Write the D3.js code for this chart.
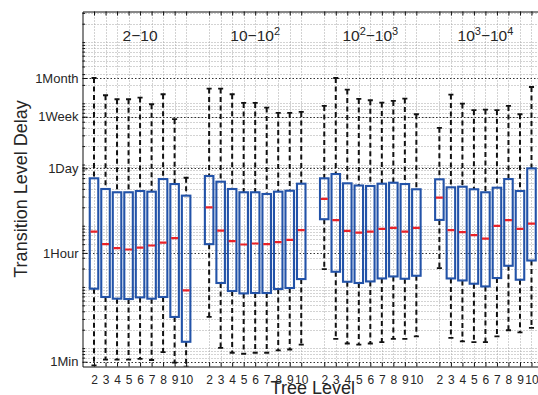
<!DOCTYPE html>
<html>
<head>
<meta charset="utf-8">
<script src="https://cdn.jsdelivr.net/npm/d3@7/dist/d3.min.js"></script>
<style>
  html, body { margin: 0; padding: 0; background: #fff; }
  svg { display: block; font-family: "Liberation Sans", Arial, Helvetica, sans-serif; }
</style>
</head>
<body>
<svg id="chart" width="538" height="395"></svg>
<script>
// Node-degree groups; "^n" marks a superscript exponent
const groupLabels = ["2−10", "10−10^2", "10^2−10^3", "10^3−10^4"];
const levels = [2, 3, 4, 5, 6, 7, 8, 9, 10];

// Transition delays in seconds, one row per group, one entry per tree level 2..10
const upperWhisker = [
  2592000, 1353000, 1165000, 1165000, 1241000, 965000, 1405000, 550000, 60800,
  1740000, 1740000, 1405000, 1014000, 1014000, 853000, 697000, 697000, 723000,
  906000, 2590000, 1676000, 1178000, 1121000, 1029000, 1093000, 1196000, 663000,
  397000, 1389000, 991000, 771000, 791000, 771000, 906000, 663000, 1847000
];
const upperQuartile = [
  59500, 39800, 35200, 35200, 36900, 36000, 57900, 48000, 31000,
  64800, 52400, 39800, 35200, 35200, 33000, 36000, 37300, 48600,
  59500, 69900, 49300, 45400, 44600, 48600, 50400, 48000, 39400,
  57300, 42400, 43400, 39400, 35200, 41800, 57900, 36900, 86500
];
const medianDelay = [
  8020, 5000, 4300, 4090, 4400, 4750, 5310, 6270, 877,
  20000, 8330, 5600, 4930, 5120, 5000, 5390, 5880, 8460,
  27400, 12300, 8240, 7730, 8020, 8880, 9220, 8020, 9220,
  28700, 8460, 7840, 7010, 6170, 9940, 12300, 8880, 10800
];
const lowerQuartile = [
  935, 685, 643, 635, 675, 643, 685, 323, 127,
  5000, 1160, 858, 784, 796, 796, 924, 960, 1345,
  12770, 1770, 1215, 1160, 1230, 1376, 1483, 1360, 1522,
  12440, 1376, 1276, 1128, 1019, 1397, 2216, 1311, 2703
];
const lowerWhisker = [
  52, 65, 65, 65, 67, 64, 86, 58, 50,
  323, 101, 84, 81, 84, 84, 92, 95, 114,
  1957, 142, 119, 114, 119, 125, 142, 142, 156,
  2032, 147, 129, 125, 125, 156, 196, 181, 214
];

const yTickValues = [60, 3600, 86400, 604800, 2592000];
const yTickLabels = ["1Min", "1Hour", "1Day", "1Week", "1Month"];

// ---------------------------------------------------------------
const svg = d3.select("#chart");
const plotLeft = 82.5, plotRight = 543, plotTop = 11.5, plotBottom = 366.5;

const x = d3.scaleLinear().domain([0, 40]).range([plotLeft, plotRight]);
const y = d3.scaleLog().domain([Math.pow(10, 1.7), Math.pow(10, 7.5)]).range([plotBottom, plotTop]);

// one record per box, placed with a blank slot between groups
const boxes = [];
groupLabels.forEach((g, gi) => {
  levels.forEach((lv, li) => {
    const i = gi * levels.length + li;
    boxes.push({
      pos: gi * 10 + li + 1, level: lv,
      hi: upperWhisker[i], q3: upperQuartile[i], med: medianDelay[i],
      q1: lowerQuartile[i], lo: lowerWhisker[i]
    });
  });
});
const positions = boxes.map(d => d.pos);

const step = x(1) - x(0);
const halfBox = step * 0.37;
const halfCap = step * 0.22;

svg.append("defs").append("clipPath").attr("id", "plot-clip")
  .append("rect").attr("x", plotLeft).attr("y", plotTop)
  .attr("width", plotRight - plotLeft).attr("height", plotBottom - plotTop);

// ---- grid ----
const grid = svg.append("g").attr("clip-path", "url(#plot-clip)");

const minorValues = [];
for (let e = 1; e <= 7; e++) {
  for (let m = 1; m <= 9; m++) {
    const v = m * Math.pow(10, e);
    if (v > y.domain()[0] && v < y.domain()[1] && !yTickValues.includes(v)) minorValues.push(v);
  }
}

grid.selectAll("line.minor-y").data(minorValues).join("line")
  .attr("x1", plotLeft).attr("x2", plotRight)
  .attr("y1", d => Math.round(y(d)) + 0.5).attr("y2", d => Math.round(y(d)) + 0.5)
  .attr("stroke", "#a6a6a6").attr("stroke-width", 1).attr("stroke-dasharray", "1,2");

grid.selectAll("line.grid-x").data(positions).join("line")
  .attr("x1", d => Math.round(x(d)) + 0.5).attr("x2", d => Math.round(x(d)) + 0.5)
  .attr("y1", plotTop).attr("y2", plotBottom)
  .attr("stroke", "#a6a6a6").attr("stroke-width", 1).attr("stroke-dasharray", "1,2");

grid.selectAll("line.major-y").data(yTickValues).join("line")
  .attr("x1", plotLeft).attr("x2", plotRight)
  .attr("y1", d => Math.round(y(d)) + 0.5).attr("y2", d => Math.round(y(d)) + 0.5)
  .attr("stroke", "#333").attr("stroke-width", 1).attr("stroke-dasharray", "1.5,2");

// ---- boxplots ----
const plot = svg.append("g").attr("clip-path", "url(#plot-clip)");
const bx = plot.selectAll("g.box").data(boxes).join("g")
  .attr("transform", d => `translate(${x(d.pos)},0)`);

// whiskers
bx.append("line")
  .attr("x1", 0).attr("x2", 0)
  .attr("y1", d => y(d.hi)).attr("y2", d => y(d.q3))
  .attr("stroke", "#111").attr("stroke-width", 2).attr("stroke-dasharray", "5,3.5");
bx.append("line")
  .attr("x1", 0).attr("x2", 0)
  .attr("y1", d => y(d.q1)).attr("y2", d => y(d.lo))
  .attr("stroke", "#111").attr("stroke-width", 2).attr("stroke-dasharray", "5,3.5");

// whisker caps
bx.append("line")
  .attr("x1", -halfCap).attr("x2", halfCap)
  .attr("y1", d => y(d.hi)).attr("y2", d => y(d.hi))
  .attr("stroke", "#111").attr("stroke-width", 1.8);
bx.append("line")
  .attr("x1", -halfCap).attr("x2", halfCap)
  .attr("y1", d => y(d.lo)).attr("y2", d => y(d.lo))
  .attr("stroke", "#111").attr("stroke-width", 1.8);

// boxes
bx.append("rect")
  .attr("x", -halfBox).attr("width", 2 * halfBox)
  .attr("y", d => y(d.q3)).attr("height", d => y(d.q1) - y(d.q3))
  .attr("fill", "none").attr("stroke", "#2353a8").attr("stroke-width", 2.1);

// medians
bx.append("line")
  .attr("x1", -halfBox + 0.8).attr("x2", halfBox - 0.8)
  .attr("y1", d => y(d.med)).attr("y2", d => y(d.med))
  .attr("stroke", "#ea2228").attr("stroke-width", 2.2);

// ---- axes ----
const fontFamily = '"Liberation Sans", Arial, Helvetica, sans-serif';

const yAxis = d3.axisLeft(y)
  .tickValues(yTickValues)
  .tickFormat((d, i) => yTickLabels[i])
  .tickSizeInner(-5).tickSizeOuter(0).tickPadding(4);
const gy = svg.append("g").attr("transform", `translate(${plotLeft},0)`).call(yAxis);

const yMinorAxis = d3.axisLeft(y).tickValues(minorValues).tickFormat(null)
  .tickSizeInner(-2.5).tickSizeOuter(0);
const gym = svg.append("g").attr("transform", `translate(${plotLeft},0)`).call(yMinorAxis);
gym.select(".domain").remove();
gym.selectAll(".tick text").remove();

const xAxis = d3.axisBottom(x)
  .tickValues(positions)
  .tickFormat((d, i) => boxes[i].level)
  .tickSizeInner(-4).tickSizeOuter(0).tickPadding(8.5);
const gx = svg.append("g").attr("transform", `translate(0,${plotBottom})`).call(xAxis);

const xTopAxis = d3.axisTop(x).tickValues(positions)
  .tickSizeInner(-4).tickSizeOuter(0);
const gxt = svg.append("g").attr("transform", `translate(0,${plotTop})`).call(xTopAxis);
gxt.selectAll(".tick text").remove();

[gy, gym, gx, gxt].forEach(g => {
  g.attr("font-family", fontFamily).style("color", "#1a1a1a");
  g.selectAll(".domain").attr("stroke", "#111").attr("stroke-width", 1);
  g.selectAll(".tick line").attr("stroke", "#111").attr("stroke-width", 1);
});
gy.selectAll(".tick text").attr("font-size", 13).attr("fill", "#262626");
gx.selectAll(".tick text").attr("font-size", 12).attr("fill", "#262626");

// ---- group headings ----
const heads = svg.append("g").attr("font-family", fontFamily).attr("fill", "#262626");
groupLabels.forEach((label, gi) => {
  const t = heads.append("text")
    .attr("x", x(gi * 10 + 5)).attr("y", 40.5)
    .attr("text-anchor", "middle").attr("font-size", 15.5);
  let raised = false;
  label.split("−").forEach((part, pi) => {
    const [base, sup] = part.split("^");
    const span = t.append("tspan").text((pi > 0 ? "−" : "") + base);
    if (raised) { span.attr("dy", 6); raised = false; }
    if (sup) {
      t.append("tspan").attr("dy", -6).attr("font-size", 11).text(sup);
      raised = true;
    }
  });
});

// ---- axis titles ----
svg.append("text")
  .attr("x", (plotLeft + plotRight) / 2).attr("y", 394)
  .attr("text-anchor", "middle").attr("font-family", fontFamily)
  .attr("font-size", 18).attr("fill", "#262626")
  .text("Tree Level");

svg.append("text")
  .attr("transform", `translate(26.5,${(plotTop + plotBottom) / 2}) rotate(-90)`)
  .attr("text-anchor", "middle").attr("font-family", fontFamily)
  .attr("font-size", 18).attr("fill", "#262626")
  .text("Transition Level Delay");
</script>
</body>
</html>
